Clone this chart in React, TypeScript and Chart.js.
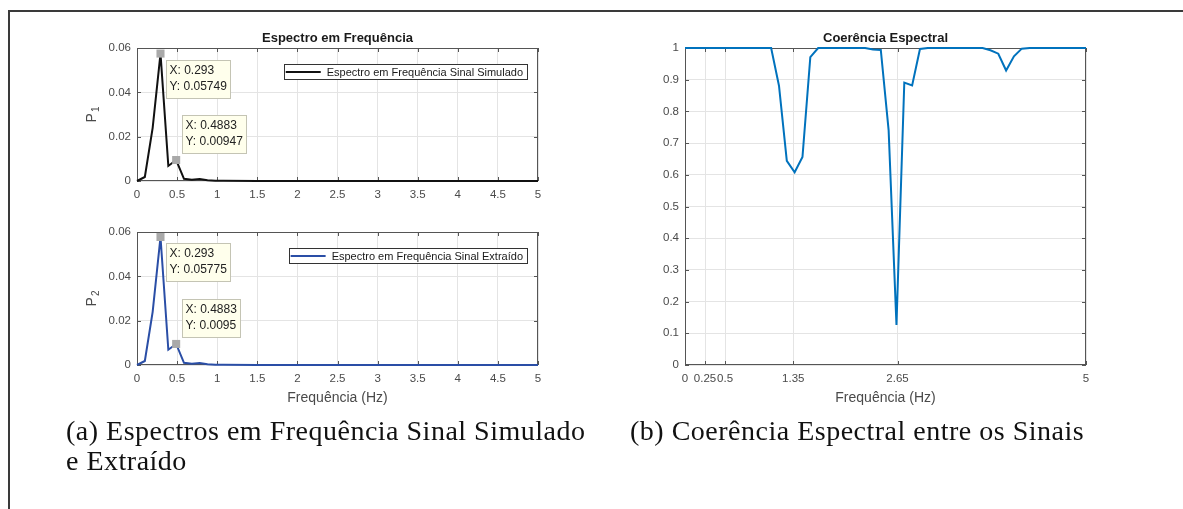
import React, { useEffect, useRef } from 'react';
import { Chart, registerables } from 'chart.js';

Chart.register(...registerables);

const SANS = '"Liberation Sans", Arial, Helvetica, sans-serif';
Chart.defaults.font.family = SANS;

// ---------- data: spectra ----------
const specFreq = [0, 0.0977, 0.1953, 0.293, 0.3906, 0.4883, 0.5859, 0.6836, 0.7813, 0.8789, 0.9766, 1.0742, 1.5, 2, 3, 4, 5];
const p1Simulado = [0, 0.0018, 0.024, 0.05749, 0.0068, 0.00947, 0.001, 0.0006, 0.0009, 0.0003, 0.00015, 0.0001, 0.00005, 0.00003, 0.00002, 0.00001, 0];
const p2Extraido = [0, 0.0018, 0.024, 0.05775, 0.0069, 0.0095, 0.001, 0.0006, 0.0009, 0.0003, 0.00015, 0.0001, 0.00005, 0.00003, 0.00002, 0.00001, 0];

const tipFreq = [0.293, 0.4883];
const tipP1 = [0.05749, 0.00947];
const tipP2 = [0.05775, 0.0095];
const tipTextP1 = [['X: 0.293', 'Y: 0.05749'], ['X: 0.4883', 'Y: 0.00947']];
const tipTextP2 = [['X: 0.293', 'Y: 0.05775'], ['X: 0.4883', 'Y: 0.0095']];

const specXTicks = [0, 0.5, 1, 1.5, 2, 2.5, 3, 3.5, 4, 4.5, 5];
const specXLabels = ['0', '0.5', '1', '1.5', '2', '2.5', '3', '3.5', '4', '4.5', '5'];
const specYTicks = [0, 0.02, 0.04, 0.06];
const specYLabels = ['0', '0.02', '0.04', '0.06'];

// ---------- data: coherence ----------
const cohFreq = [0, 1.0742, 1.1719, 1.2695, 1.3672, 1.4648, 1.5625, 1.6602, 2.2461, 2.3438, 2.4414, 2.5391, 2.6367, 2.7344, 2.832, 2.9297, 3.0273, 3.7109, 3.8086, 3.9063, 4.0039, 4.1016, 4.1992, 4.2969, 5];
const cohValues = [1, 1, 0.881, 0.644, 0.608, 0.656, 0.971, 1, 1, 0.995, 0.994, 0.74, 0.126, 0.891, 0.882, 0.997, 1, 1, 0.993, 0.982, 0.929, 0.974, 0.998, 1, 1];
const cohXTicks = [0, 0.25, 0.5, 1.35, 2.65, 5];
const cohXLabels = ['0', '0.25', '0.5', '1.35', '2.65', '5'];
const cohYTicks = [0, 0.1, 0.2, 0.3, 0.4, 0.5, 0.6, 0.7, 0.8, 0.9, 1];
const cohYLabels = ['0', '0.1', '0.2', '0.3', '0.4', '0.5', '0.6', '0.7', '0.8', '0.9', '1'];

// ---------- texts ----------
const titleSpec = 'Espectro em Frequência';
const titleCoh = 'Coerência Espectral';
const xTitle = 'Frequência (Hz)';
const legendSim = 'Espectro em Frequência Sinal Simulado';
const legendExt = 'Espectro em Frequência Sinal Extraído';
const captionA = ['(a) Espectros em Frequência Sinal Simulado', 'e Extraído'];
const captionB = '(b) Coerência Espectral entre os Sinais';

const TICK_COLOR = '#4a4a4a';
const GRID_COLOR = '#e4e4e4';
const BOX_COLOR = '#555555';

function decorPlugin(o: any) {
  return {
    id: 'decor',
    beforeDatasetsDraw(chart: any) {
      const { ctx, chartArea: a, scales } = chart;
      const xs = scales.x;
      const ys = scales.y;
      ctx.save();
      ctx.strokeStyle = BOX_COLOR;
      ctx.lineWidth = 1;
      ctx.strokeRect(a.left + 0.5, a.top + 0.5, a.right - a.left - 1, a.bottom - a.top - 1);
      ctx.beginPath();
      o.xTicks.forEach((v: number) => {
        const px = Math.round(xs.getPixelForValue(v)) + 0.5;
        ctx.moveTo(px, a.bottom);
        ctx.lineTo(px, a.bottom - 4);
        ctx.moveTo(px, a.top);
        ctx.lineTo(px, a.top + 4);
      });
      o.yTicks.forEach((v: number) => {
        const py = Math.round(ys.getPixelForValue(v)) + 0.5;
        ctx.moveTo(a.left, py);
        ctx.lineTo(a.left + 4, py);
        ctx.moveTo(a.right, py);
        ctx.lineTo(a.right - 4, py);
      });
      ctx.stroke();
      ctx.restore();
    },
    afterDraw(chart: any) {
      const { ctx, chartArea: a, scales } = chart;
      const xs = scales.x;
      const ys = scales.y;
      ctx.save();
      if (o.title) {
        ctx.fillStyle = '#1a1a1a';
        ctx.font = 'bold 13px ' + SANS;
        ctx.textAlign = 'center';
        ctx.textBaseline = 'alphabetic';
        ctx.fillText(o.title, (a.left + a.right) / 2, a.top - 6);
      }
      if (o.xTitle) {
        ctx.fillStyle = TICK_COLOR;
        ctx.font = '14px ' + SANS;
        ctx.textAlign = 'center';
        ctx.textBaseline = 'middle';
        ctx.fillText(o.xTitle, (a.left + a.right) / 2, a.bottom + 33);
      }
      if (o.yTitle) {
        ctx.save();
        ctx.translate(a.left - 45, (a.top + a.bottom) / 2);
        ctx.rotate(-Math.PI / 2);
        ctx.fillStyle = TICK_COLOR;
        ctx.textAlign = 'left';
        ctx.textBaseline = 'middle';
        ctx.font = '14px ' + SANS;
        const wP = ctx.measureText(o.yTitle).width;
        ctx.font = '10px ' + SANS;
        const wS = ctx.measureText(o.ySub).width;
        const start = -(wP + 1 + wS) / 2;
        ctx.font = '14px ' + SANS;
        ctx.fillText(o.yTitle, start, 0);
        ctx.font = '10px ' + SANS;
        ctx.fillText(o.ySub, start + wP + 1, 4);
        ctx.restore();
      }
      if (o.legend) {
        ctx.font = '11px ' + SANS;
        const tw = ctx.measureText(o.legend).width;
        const bw = 2 + 35 + 6 + tw + 4;
        const bh = 15;
        const bx = a.right - 11 - bw;
        const by = a.top + 16;
        ctx.fillStyle = '#ffffff';
        ctx.fillRect(bx, by, bw, bh);
        ctx.strokeStyle = '#333333';
        ctx.lineWidth = 1;
        ctx.strokeRect(Math.round(bx) + 0.5, by + 0.5, Math.round(bw), bh);
        ctx.strokeStyle = o.color;
        ctx.lineWidth = 2;
        ctx.beginPath();
        ctx.moveTo(bx + 2, by + bh / 2 + 0.5);
        ctx.lineTo(bx + 37, by + bh / 2 + 0.5);
        ctx.stroke();
        ctx.fillStyle = '#1a1a1a';
        ctx.textAlign = 'left';
        ctx.textBaseline = 'middle';
        ctx.fillText(o.legend, bx + 43, by + bh / 2 + 1);
      }
      if (o.tips) {
        ctx.font = '12px ' + SANS;
        o.tips.forEach((t: any) => {
          const px = xs.getPixelForValue(t.x);
          const py = ys.getPixelForValue(t.y);
          const tw = Math.max(...t.lines.map((s: string) => ctx.measureText(s).width));
          const w = Math.round(tw + 7);
          const h = 38;
          const left = Math.round(px + 6);
          const top = t.dir === 'down' ? Math.round(py + 6) : Math.round(py - 7 - h);
          ctx.fillStyle = 'rgb(255,255,236)';
          ctx.fillRect(left, top, w, h);
          ctx.strokeStyle = '#c4c4b4';
          ctx.lineWidth = 1;
          ctx.strokeRect(left + 0.5, top + 0.5, w, h);
          ctx.fillStyle = '#222222';
          ctx.textAlign = 'left';
          ctx.textBaseline = 'middle';
          ctx.fillText(t.lines[0], left + 3.5, top + 11);
          ctx.fillText(t.lines[1], left + 3.5, top + 27);
        });
      }
      ctx.restore();
    },
  };
}

function axisOpts(ticks: number[], labels: string[], min: number, max: number, isX: boolean) {
  return {
    type: 'linear',
    min,
    max,
    afterBuildTicks: (s: any) => {
      s.ticks = ticks.map((v) => ({ value: v }));
    },
    afterFit: (s: any) => {
      if (isX) s.height = 30;
      else s.width = 45;
    },
    grid: { color: GRID_COLOR, lineWidth: 1, drawTicks: false },
    border: { display: false },
    ticks: {
      autoSkip: false,
      maxRotation: 0,
      minRotation: 0,
      padding: isX ? 7 : 6,
      color: TICK_COLOR,
      font: { size: 11.5, family: SANS },
      callback: (_v: any, i: number) => labels[i],
    },
  };
}

function makeChart(canvas: HTMLCanvasElement, cfg: any) {
  const datasets: any[] = [];
  if (cfg.markers) {
    datasets.push({
      data: cfg.markers,
      showLine: false,
      pointStyle: 'rect',
      pointRadius: 5.7,
      pointBackgroundColor: '#a9a9a9',
      pointBorderWidth: 0,
      clip: false,
    });
  }
  datasets.push({
    data: cfg.line,
    borderColor: cfg.color,
    borderWidth: 2,
    pointRadius: 0,
    tension: 0,
    fill: false,
    clip: 3,
  });
  return new Chart(canvas, {
    type: 'line',
    data: { datasets },
    options: {
      animation: false,
      responsive: false,
      events: [],
      layout: { padding: cfg.padding },
      plugins: { legend: { display: false }, tooltip: { enabled: false }, title: { display: false } },
      scales: {
        x: axisOpts(cfg.xTicks, cfg.xLabels, 0, 5, true),
        y: axisOpts(cfg.yTicks, cfg.yLabels, cfg.yMin, cfg.yMax, false),
      },
    } as any,
    plugins: [decorPlugin(cfg.decor)],
  });
}

const pts = (xs: number[], ys: number[]) => xs.map((x, i) => ({ x, y: ys[i] }));

export default function App() {
  const refA = useRef<HTMLCanvasElement>(null);
  const refB = useRef<HTMLCanvasElement>(null);
  const refC = useRef<HTMLCanvasElement>(null);

  useEffect(() => {
    const charts: Chart[] = [];
    charts.push(
      makeChart(refA.current!, {
        line: pts(specFreq, p1Simulado),
        markers: pts(tipFreq, tipP1),
        color: '#111111',
        padding: { left: 32, right: 22, top: 28, bottom: 0 },
        xTicks: specXTicks, xLabels: specXLabels, yTicks: specYTicks, yLabels: specYLabels, yMin: 0, yMax: 0.06,
        decor: {
          xTicks: specXTicks, yTicks: specYTicks, title: titleSpec, yTitle: 'P', ySub: '1',
          legend: legendSim, color: '#111111',
          tips: [
            { x: tipFreq[0], y: tipP1[0], lines: tipTextP1[0], dir: 'down' },
            { x: tipFreq[1], y: tipP1[1], lines: tipTextP1[1], dir: 'up' },
          ],
        },
      })
    );
    charts.push(
      makeChart(refB.current!, {
        line: pts(specFreq, p2Extraido),
        markers: pts(tipFreq, tipP2),
        color: '#2a4ea6',
        padding: { left: 32, right: 22, top: 28, bottom: 30 },
        xTicks: specXTicks, xLabels: specXLabels, yTicks: specYTicks, yLabels: specYLabels, yMin: 0, yMax: 0.06,
        decor: {
          xTicks: specXTicks, yTicks: specYTicks, yTitle: 'P', ySub: '2', xTitle,
          legend: legendExt, color: '#2a4ea6',
          tips: [
            { x: tipFreq[0], y: tipP2[0], lines: tipTextP2[0], dir: 'down' },
            { x: tipFreq[1], y: tipP2[1], lines: tipTextP2[1], dir: 'up' },
          ],
        },
      })
    );
    charts.push(
      makeChart(refC.current!, {
        line: pts(cohFreq, cohValues),
        color: '#0072BD',
        padding: { left: 20, right: 24, top: 28, bottom: 30 },
        xTicks: cohXTicks, xLabels: cohXLabels, yTicks: cohYTicks, yLabels: cohYLabels, yMin: 0, yMax: 1,
        decor: { xTicks: cohXTicks, yTicks: cohYTicks, title: titleCoh, xTitle },
      })
    );
    return () => charts.forEach((c) => c.destroy());
  }, []);

  const abs = (l: number, t: number, w: number, h: number): React.CSSProperties => ({
    position: 'absolute', left: l, top: t, width: w, height: h,
  });
  const capStyle: React.CSSProperties = {
    position: 'absolute',
    fontFamily: '"Liberation Serif", "Times New Roman", serif',
    fontSize: 28,
    letterSpacing: '0.5px',
    lineHeight: '30px',
    color: '#111',
    whiteSpace: 'nowrap',
    margin: 0,
  };

  return (
    <div style={{ position: 'absolute', left: 0, top: 0, width: 1183, height: 509, overflow: 'hidden', background: '#fff' }}>
      <div style={{ position: 'absolute', left: 8, top: 10, width: 1300, height: 600, borderLeft: '2px solid #3a3a3a', borderTop: '2px solid #3a3a3a' }} />
      <canvas ref={refA} width={500} height={191} style={abs(60, 20, 500, 191)} />
      <canvas ref={refB} width={500} height={221} style={abs(60, 204, 500, 221)} />
      <canvas ref={refC} width={490} height={405} style={abs(620, 20, 490, 405)} />
      <div style={{ ...capStyle, left: 66, top: 416 }}>
        {captionA[0]}
        <br />
        {captionA[1]}
      </div>
      <div style={{ ...capStyle, left: 630, top: 416 }}>{captionB}</div>
    </div>
  );
}
